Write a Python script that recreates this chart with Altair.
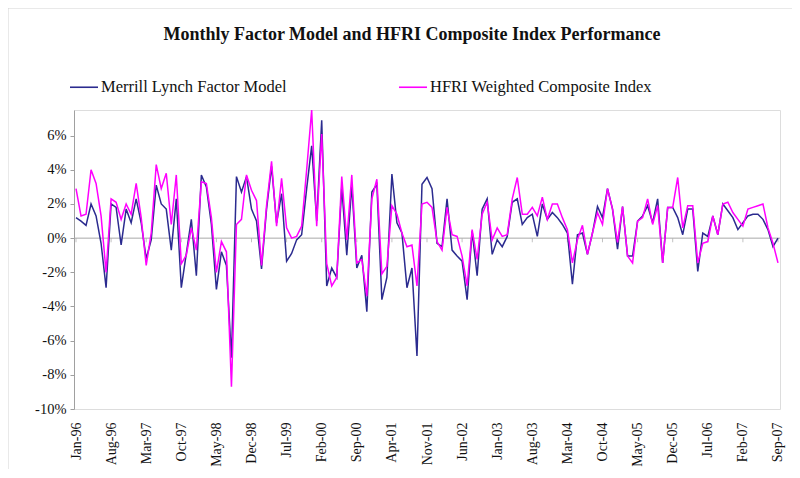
import altair as alt
import pandas as pd

# ---- data ----
series_names = ["Merrill Lynch Factor Model", "HFRI Weighted Composite Index"]
chart_title = "Monthly Factor Model and HFRI Composite Index Performance"
months = [d.strftime("%b-%y") for d in pd.date_range("1996-01-01", "2007-09-01", freq="MS")]

ml = [1.2, 1.0, 0.75, 2.0, 1.3, -0.3, -2.9, 2.0, 1.8, -0.4,
      1.7, 0.9, 2.3, 0.9, -1.2, -0.1, 3.1, 2.0, 1.7, -0.7,
      2.3, -2.9, -0.9, 1.1, -2.2, 3.7, 3.0, 0.8, -3.0, -0.8,
      -1.6, -7.0, 3.6, 2.7, 3.6, 1.7, 1.0, -1.8, 1.7, 4.2,
      0.9, 2.6, -1.35, -0.9, -0.1, 0.2, 2.9, 5.4, 1.0, 6.9,
      -2.8, -1.75, -2.3, 3.0, -1.0, 3.1, -1.75, -1.0, -4.3, 2.7,
      3.15, -3.6, -2.3, 3.75, 0.9, 0.3, -2.9, -1.75, -6.9, 3.15,
      3.55, 2.9, -0.3, -0.5, 2.3, -0.7, -1.05, -1.35, -3.6, 0.4,
      -2.2, 1.7, 2.3, -0.95, -0.1, -0.5, 0.1, 2.1, 2.3, 0.8,
      1.2, 1.4, 0.1, 2.0, 1.1, 1.5, 1.2, 0.8, 0.3, -2.7,
      0.2, 0.3, -0.95, 0.3, 1.85, 1.2, 2.9, 1.7, -0.65, 1.85,
      -1.05, -1.05, 1.0, 1.3, 1.9, 0.9, 2.3, -1.45, 1.8, 1.8,
      1.2, 0.2, 1.7, 1.7, -1.95, 0.3, 0.1, 1.3, 0.2, 2.0,
      1.6, 1.2, 0.5, 0.9, 1.3, 1.4, 1.4, 1.1, 0.5, -0.5,
      0.0]

hfri = [2.9, 1.3, 1.4, 4.0, 3.2, 1.3, -2.0, 2.3, 2.1, 1.1,
        2.0, 1.4, 3.2, 1.2, -1.6, 0.3, 4.3, 2.9, 3.8, 0.8,
        3.7, -1.5, -1.0, 0.6, -0.7, 3.3, 3.2, 1.2, -2.0, -0.2,
        -0.8, -8.7, 0.8, 1.1, 3.7, 2.8, 2.2, -1.6, 1.9, 4.5,
        0.7, 3.5, 0.6, 0.0, 0.1, 0.7, 4.0, 7.5, 0.7, 6.1,
        -1.5, -2.8, -2.3, 3.6, -0.1, 3.7, -1.45, -1.25, -3.4, 2.3,
        3.45, -2.1, -1.65, 1.9, 1.4, 0.3, -0.5, -0.4, -2.8, 2.0,
        2.1, 1.8, -0.2, -0.7, 1.8, 0.2, 0.1, -1.05, -2.8, 0.5,
        -1.25, 1.4, 2.1, -0.1, 0.6, 0.1, 0.2, 2.3, 3.55, 1.4,
        1.4, 1.8, 1.3, 2.4, 1.1, 2.0, 2.0, 1.2, 0.5, -1.45,
        -0.1, 0.75, -0.95, 0.3, 1.5, 0.8, 2.9, 1.7, -0.25, 1.85,
        -1.05, -1.45, 1.0, 1.2, 2.3, 0.8, 1.9, -1.45, 1.8, 1.8,
        3.55, 0.6, 1.9, 1.9, -1.45, -0.3, -0.2, 1.3, 0.2, 2.0,
        2.1, 1.5, 1.1, 0.7, 1.7, 1.8, 1.9, 2.0, 0.6, -0.3,
        -1.45]

tick_idx = list(range(0, len(months), 7))
tick_labels = [months[i] for i in tick_idx]
y_ticks = [-10, -8, -6, -4, -2, 0, 2, 4, 6]

rows = []
for i, m in enumerate(months):
    rows.append({"idx": i, "month": m, "series": series_names[0], "value": ml[i]})
    rows.append({"idx": i, "month": m, "series": series_names[1], "value": hfri[i]})
df = pd.DataFrame(rows)

NAVY = "#2b2b8f"
MAGENTA = "#ff00ff"
FONT = "Liberation Serif"

label_array = "[" + ",".join("'" + t + "'" for t in tick_labels) + "]"

xscale = alt.Scale(domain=[-0.4, 140.4], nice=False, zero=False)
yscale = alt.Scale(domain=[-10, 7.5], nice=False)

xaxis = alt.Axis(values=tick_idx, labelExpr=label_array + "[round(datum.value/7)]",
                 labelAngle=-90, domain=False, ticks=False, grid=False,
                 labelOverlap=False, labelFont=FONT, labelFontSize=14,
                 labelColor="#111", labelPadding=13, title=None)
yaxis = alt.Axis(values=y_ticks, labelExpr="datum.value + '%'", grid=False,
                 labelOverlap=False, domainColor="#a0a0a0", tickColor="#a0a0a0",
                 tickSize=4, labelFont=FONT, labelFontSize=14.5, labelColor="#111",
                 labelPadding=4, title=None)

color = alt.Color("series:N",
                  scale=alt.Scale(domain=series_names, range=[NAVY, MAGENTA]),
                  legend=alt.Legend(title=None, orient="none", direction="horizontal",
                                    legendX=-5, legendY=-38,
                                    symbolType="stroke", symbolSize=784,
                                    symbolStrokeWidth=1.6,
                                    labelFont=FONT, labelFontSize=16.5,
                                    labelColor="#111", labelOffset=2,
                                    columnPadding=108, labelLimit=400))

X = alt.X("idx:Q", scale=xscale, axis=xaxis)
Y = alt.Y("value:Q", scale=yscale, axis=yaxis)

base = alt.Chart(df)

zero_df = pd.DataFrame({"idx": [-0.4, 140.4], "value": [0, 0]})
zero_line = alt.Chart(zero_df).mark_line(color="#a8a8a8", strokeWidth=1).encode(x=X, y=Y)

tick_df = pd.DataFrame({"idx": tick_idx, "value": [0] * len(tick_idx)})
zero_ticks = alt.Chart(tick_df).mark_tick(color="#a8a8a8", orient="vertical",
                                          size=4, thickness=1, yOffset=2).encode(x=X, y=Y)

ml_line = base.transform_filter(alt.datum.series == series_names[0]).mark_line(
    strokeWidth=1.5).encode(x=X, y=Y, color=color)

hf_line = base.transform_filter(alt.datum.series == series_names[1]).mark_line(
    strokeWidth=1.5).encode(x=X, y=Y, color=color)

frame = alt.Chart(pd.DataFrame({"a": [0]})).mark_rect(
    fillOpacity=0, stroke="#d4d4d4", strokeWidth=1, clip=False).encode(
    x=alt.value(-66), x2=alt.value(721), y=alt.value(-102), y2=alt.value(360))

title = alt.Chart(pd.DataFrame({"t": [chart_title]})).mark_text(
    font=FONT, fontSize=18, fontWeight="bold", color="#111",
    align="center", baseline="alphabetic", clip=False).encode(
    text="t:N", x=alt.value(338), y=alt.value(-70))

chart = alt.layer(zero_line, zero_ticks, ml_line, hf_line, frame, title).properties(
    width=706, height=299,
    autosize=alt.AutoSizeParams(type="none"),
    padding={"left": 66, "top": 102, "right": 12, "bottom": 60},
).configure_view(stroke=None).configure(background="white")

chart.save("out.html", embed_options={"renderer": "svg", "actions": False})
